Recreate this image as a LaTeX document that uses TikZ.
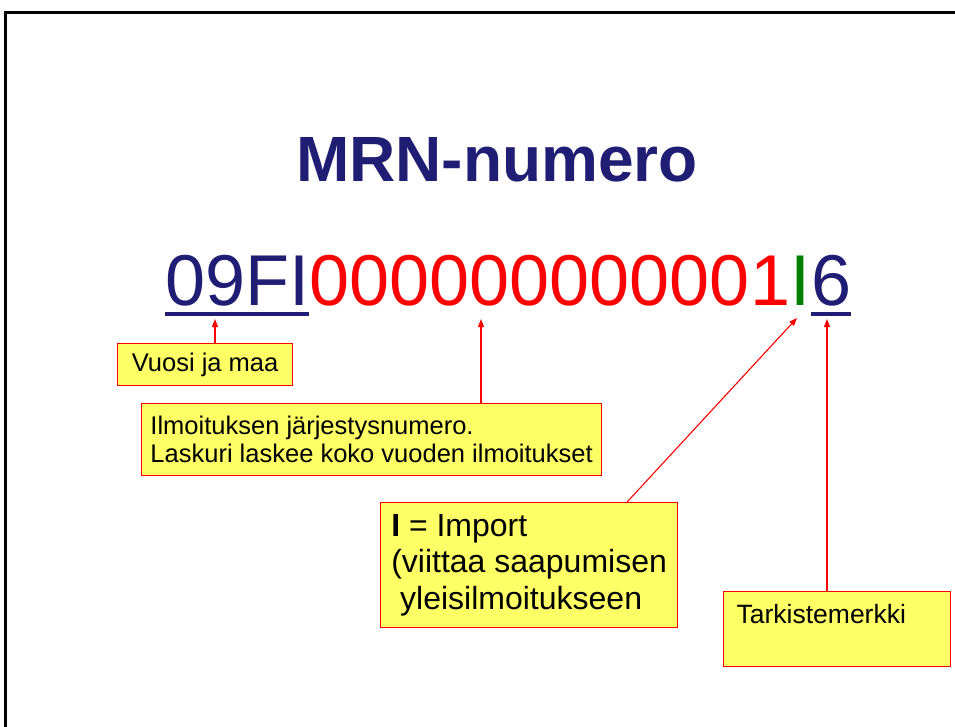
\documentclass[tikz,border=0pt]{standalone}
\usepackage{fontspec}
\setmainfont{Liberation Sans}
\usepackage{tikz}
\usetikzlibrary{arrows.meta,positioning}
\definecolor{mrnnavy}{HTML}{201D74}
\definecolor{mrnred}{HTML}{FF0000}
\definecolor{mrngreen}{HTML}{008000}
\definecolor{notefill}{HTML}{FFFF66}
\tikzset{
  digits/.style ={inner sep=0pt,font=\fontsize{72}{86}\selectfont},
  note/.style   ={draw=mrnred,line width=1.2pt,fill=notefill,anchor=north west,
                  font=\fontsize{25.5}{28.5}\selectfont,align=left},
  uline/.style  ={draw=mrnnavy,line width=4pt},
  pointer/.style={-{Triangle[length=8pt,width=6pt]},line width=1.1pt,draw=mrnred}
}

\begin{document}
\begin{tikzpicture}[x=1pt,y=-1pt]
  \useasboundingbox (0,0) rectangle (955,727);
  \draw[line width=2.5pt] (5.5,727) |- (955,12.5);
  \node[anchor=base,inner sep=0pt,text=mrnnavy,
        font=\fontsize{64}{77}\selectfont\bfseries] (title) at (497,182) {MRN-numero};
  % the number, piece by piece
  \node[digits,anchor=base west,text=mrnnavy] (yc) at (165,305) {09FI};
  \node[digits,base right=0pt of yc,text=mrnred] (num) {000000000001};
  \node[digits,base right=0pt of num,text=mrngreen] (imp) {I};
  \node[digits,base right=0pt of imp,text=mrnnavy] (chk) {6};
  \draw[uline] ([yshift=-9pt]yc.base west) -- ([yshift=-9pt]yc.base east);
  \draw[uline] ([yshift=-9pt]chk.base west) -- ([yshift=-9pt]chk.base east);
  \coordinate (yctip) at (215,319);
  \coordinate (numtip) at (481,319);
  \coordinate (imptip) at (797,318);
  \coordinate (chktip) at (827,319);
  % notes
  \node[note,minimum width=175pt,minimum height=42pt,align=center] (yrbox) at (117,343) {Vuosi ja maa};
  \node[note,minimum width=460pt,minimum height=72pt] (seqbox) at (141,403)
       {Ilmoituksen järjestysnumero.\\Laskuri laskee koko vuoden ilmoitukset};
  \node[note,minimum width=297pt,minimum height=125pt,
        font=\fontsize{32}{36.5}\selectfont] (impbox) at (380,502)
       {\textbf{I} = Import\\(viittaa saapumisen\\\hspace*{0.28em}yleisilmoitukseen};
  \node[note,text width=201pt,inner xsep=13pt,inner ysep=0pt,text height=32pt,
        text depth=43pt,font=\fontsize{26.5}{30}\selectfont] (chkbox) at (723,591) {Tarkistemerkki};
  \draw[pointer] (yrbox.north -| yctip) -- (yctip);
  \draw[pointer] (seqbox.north -| numtip) -- (numtip);
  \draw[pointer] ([xshift=98pt]impbox.north) -- (imptip);
  \draw[pointer] (chkbox.north -| chktip) -- (chktip);
\end{tikzpicture}
\end{document}
